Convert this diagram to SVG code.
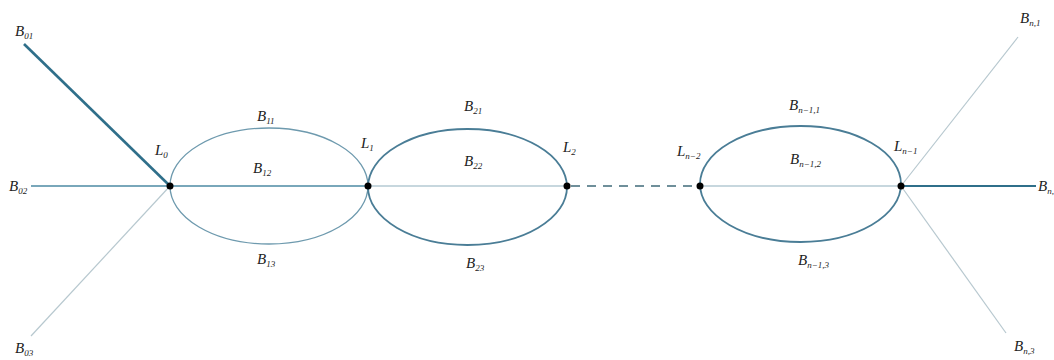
<svg xmlns="http://www.w3.org/2000/svg" width="1054" height="360" viewBox="0 0 1054 360">
<style>
.lbl{font-family:"Liberation Serif",serif;font-style:italic;font-size:15px;fill:#222}
.sub{font-size:9px}
.thick{stroke:#2f6f8a;stroke-width:2.6;fill:none}
.mid{stroke:#4c8aa3;stroke-width:1.4;fill:none}
.thin{stroke:#8fb0bd;stroke-width:1.1;fill:none}
.light{stroke:#b7c8cf;stroke-width:1.2;fill:none}
.ell1{stroke:#6e9aae;stroke-width:1.3;fill:none}
.ell2{stroke:#4a7d96;stroke-width:1.8;fill:none}
.dash{stroke:#6f8f9a;stroke-width:2;stroke-dasharray:9,7;fill:none}
.dot{fill:#000}
</style>
<rect width="1054" height="360" fill="#fff"/>
<g id="connectors">
<line class="thick" x1="24" y1="44" x2="170" y2="186"/>
<line class="mid" x1="31" y1="186" x2="170" y2="186"/>
<line class="light" x1="31" y1="336" x2="170" y2="186"/>
<line class="mid" x1="170" y1="186" x2="368" y2="186"/>
<line class="thin" x1="368" y1="186" x2="567" y2="186"/>
<line class="dash" x1="571" y1="186" x2="697" y2="186"/>
<line class="thin" x1="700" y1="186" x2="901" y2="186"/>
<line class="light" x1="901" y1="186" x2="1018" y2="37"/>
<line class="thick" x1="901" y1="186" x2="1036" y2="186" style="stroke-width:2"/>
<line class="light" x1="901" y1="186" x2="1006" y2="333"/>
<ellipse class="ell1" cx="269" cy="186" rx="99" ry="58"/>
<ellipse class="ell2" cx="467.5" cy="187" rx="99.5" ry="58"/>
<ellipse class="ell2" cx="800.5" cy="184" rx="100.5" ry="58"/>
</g>
<g id="L0"><circle class="dot" cx="170" cy="186" r="3.5"/><text class="lbl" x="155" y="155">L<tspan class="sub" dy="3">0</tspan></text></g>
<g id="L1"><circle class="dot" cx="368" cy="186" r="3.5"/><text class="lbl" x="361" y="148">L<tspan class="sub" dy="3">1</tspan></text></g>
<g id="L2"><circle class="dot" cx="567" cy="186" r="3.5"/><text class="lbl" x="563" y="152">L<tspan class="sub" dy="3">2</tspan></text></g>
<g id="Ln-2"><circle class="dot" cx="700" cy="186" r="3.5"/><text class="lbl" x="677" y="156">L<tspan class="sub" dy="3">n−2</tspan></text></g>
<g id="Ln-1"><circle class="dot" cx="901" cy="186" r="3.5"/><text class="lbl" x="894" y="151">L<tspan class="sub" dy="3">n−1</tspan></text></g>
<g id="B01"><text class="lbl" x="15" y="36">B<tspan class="sub" dy="3">01</tspan></text></g>
<g id="B02"><text class="lbl" x="9" y="191">B<tspan class="sub" dy="3">02</tspan></text></g>
<g id="B03"><text class="lbl" x="15" y="353">B<tspan class="sub" dy="3">03</tspan></text></g>
<g id="B11"><text class="lbl" x="257" y="121">B<tspan class="sub" dy="3">11</tspan></text></g>
<g id="B12"><text class="lbl" x="253" y="173">B<tspan class="sub" dy="3">12</tspan></text></g>
<g id="B13"><text class="lbl" x="257" y="264">B<tspan class="sub" dy="3">13</tspan></text></g>
<g id="B21"><text class="lbl" x="464" y="111">B<tspan class="sub" dy="3">21</tspan></text></g>
<g id="B22"><text class="lbl" x="464" y="166">B<tspan class="sub" dy="3">22</tspan></text></g>
<g id="B23"><text class="lbl" x="466" y="268">B<tspan class="sub" dy="3">23</tspan></text></g>
<g id="Bn-11"><text class="lbl" x="789" y="110">B<tspan class="sub" dy="3">n−1,1</tspan></text></g>
<g id="Bn-12"><text class="lbl" x="790" y="164">B<tspan class="sub" dy="3">n−1,2</tspan></text></g>
<g id="Bn-13"><text class="lbl" x="798" y="265">B<tspan class="sub" dy="3">n−1,3</tspan></text></g>
<g id="Bn1"><text class="lbl" x="1020" y="23">B<tspan class="sub" dy="3">n,1</tspan></text></g>
<g id="Bn2"><text class="lbl" x="1038" y="191">B<tspan class="sub" dy="3">n,</tspan></text></g>
<g id="Bn3"><text class="lbl" x="1014" y="351">B<tspan class="sub" dy="3">n,3</tspan></text></g>
</svg>
